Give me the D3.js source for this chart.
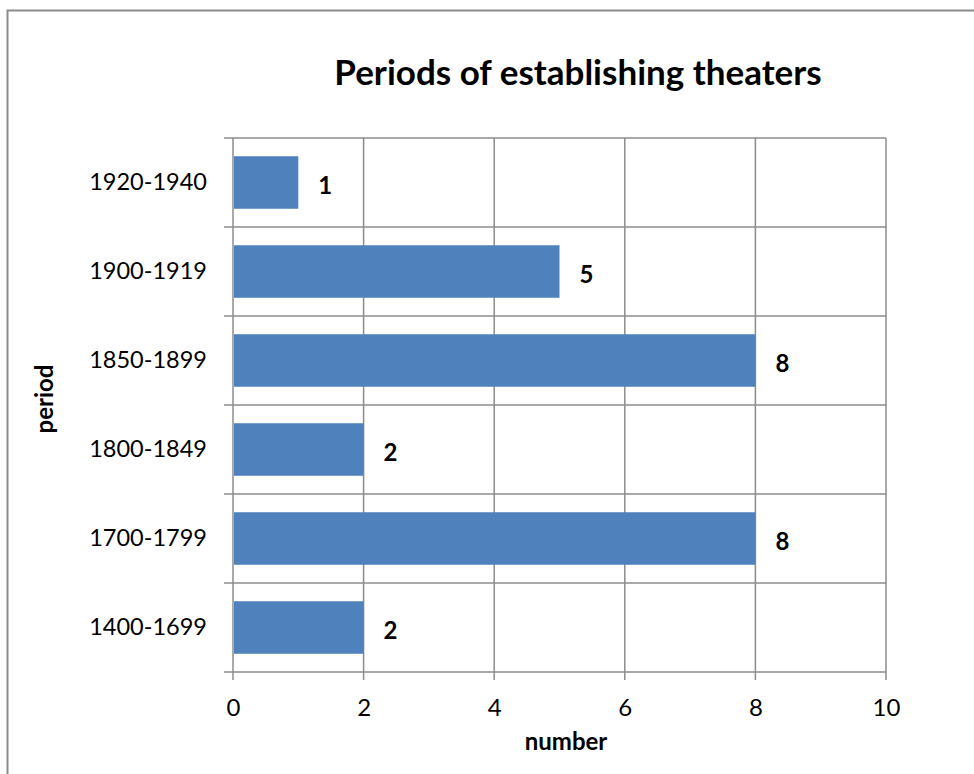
<!DOCTYPE html>
<html>
<head>
<meta charset="utf-8">
<script src="https://cdn.jsdelivr.net/npm/d3@7"></script>
<style>
  body { margin: 0; background: #fff; }
  svg { display: block; font-family: Lato, "Open Sans", sans-serif; }
</style>
</head>
<body>
<div id="chart"></div>
<script>
// data, top row first
var periods = ["1920-1940", "1900-1919", "1850-1899", "1800-1849", "1700-1799", "1400-1699"];
var counts = [1, 5, 8, 2, 8, 2];
var xTicks = [0, 2, 4, 6, 8, 10];

var width = 974, height = 774;
var plot = {left: 233, right: 886, top: 138, bottom: 672};
var gridColor = "#8c8c8c";

var svg = d3.select("#chart").append("svg")
  .attr("width", width)
  .attr("height", height);

// outer frame (only top and left edges are visible in the shot)
svg.append("rect")
  .attr("x", 7.5).attr("y", 10.5)
  .attr("width", 1000).attr("height", 1000)
  .attr("fill", "none")
  .attr("stroke", gridColor)
  .attr("stroke-width", 2);

var x = d3.scaleLinear().domain([0, 10]).range([plot.left, plot.right]);
var y = d3.scaleBand().domain(periods).range([plot.top, plot.bottom])
  .paddingInner(0.41).paddingOuter(0.205);
var rows = d3.scaleBand().domain(periods).range([plot.top, plot.bottom]);

var data = periods.map(function(p, i) { return {period: p, value: counts[i]}; });

// grid
var grid = svg.append("g").attr("stroke", gridColor).attr("stroke-width", 1.5);
grid.selectAll("line.v").data(xTicks).enter().append("line")
  .attr("class", "v")
  .attr("x1", function(d) { return x(d); }).attr("x2", function(d) { return x(d); })
  .attr("y1", plot.top).attr("y2", plot.bottom + 8);
var bounds = periods.map(function(p) { return rows(p); }).concat([plot.bottom]);
grid.selectAll("line.h").data(bounds).enter().append("line")
  .attr("class", "h")
  .attr("x1", plot.left - 9).attr("x2", plot.right)
  .attr("y1", function(d) { return d; }).attr("y2", function(d) { return d; });

// bars
svg.append("g").selectAll("rect").data(data).enter().append("rect")
  .attr("x", x(0) + 1)
  .attr("y", function(d) { return y(d.period); })
  .attr("width", function(d) { return x(d.value) - x(0) - 1; })
  .attr("height", y.bandwidth())
  .attr("fill", "#4f81bd");

// value labels
svg.append("g").selectAll("text").data(data).enter().append("text")
  .attr("x", function(d) { return x(d.value) + 20; })
  .attr("y", function(d) { return y(d.period) + y.bandwidth() / 2 + 3; })
  .attr("dy", "0.35em")
  .attr("font-size", 24)
  .attr("font-weight", "bold")
  .text(function(d) { return d.value; });

// axes
var yAxis = svg.append("g")
  .attr("transform", "translate(" + plot.left + ",0)")
  .call(d3.axisLeft(y).tickSize(0).tickPadding(26));
yAxis.select(".domain").remove();
yAxis.selectAll("text").attr("font-size", 23.5).attr("fill", "#000")
  .attr("font-family", "Lato, sans-serif");

var xAxis = svg.append("g")
  .attr("transform", "translate(0," + plot.bottom + ")")
  .call(d3.axisBottom(x).tickValues(xTicks).tickSize(0).tickPadding(27));
xAxis.select(".domain").remove();
xAxis.selectAll("text").attr("font-size", 24).attr("fill", "#000")
  .attr("font-family", "Lato, sans-serif");

// titles
svg.append("text")
  .attr("x", 578).attr("y", 85)
  .attr("text-anchor", "middle")
  .attr("font-size", 35)
  .attr("font-weight", "bold")
  .text("Periods of establishing theaters");

svg.append("text")
  .attr("x", 566).attr("y", 750)
  .attr("text-anchor", "middle")
  .attr("font-size", 24)
  .attr("font-weight", "bold")
  .text("number");

svg.append("text")
  .attr("transform", "translate(53,399) rotate(-90)")
  .attr("text-anchor", "middle")
  .attr("font-size", 24)
  .attr("font-weight", "bold")
  .text("period");
</script>
</body>
</html>
